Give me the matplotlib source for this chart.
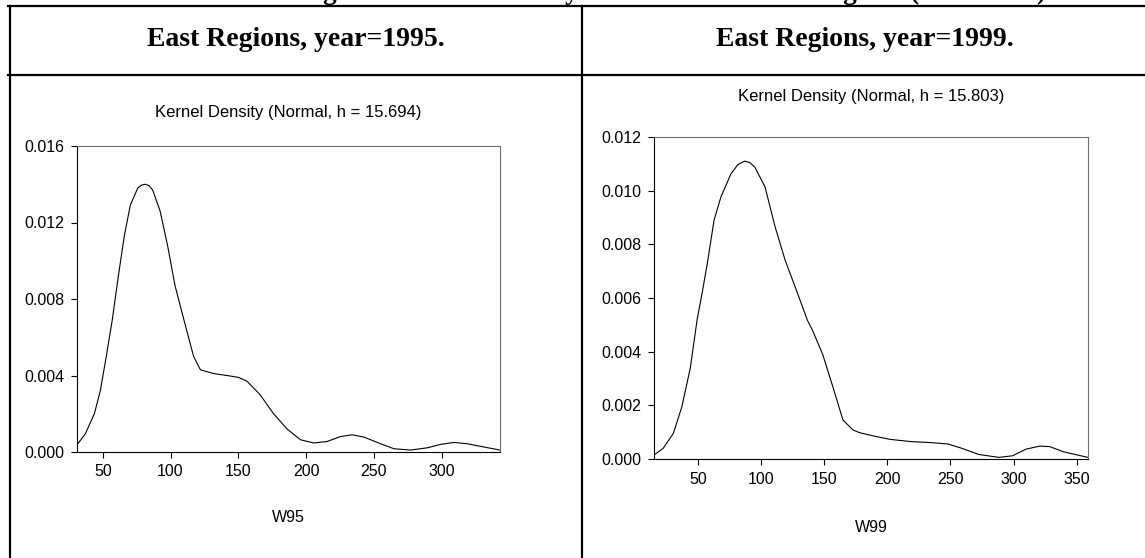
import matplotlib.pyplot as plt
from matplotlib.lines import Line2D

# Kernel density curves
w95_x = [31.3, 37.2, 43.8, 48.2, 52.6, 57.0, 61.5, 65.9, 70.3, 75.8, 78.5, 81.3, 84.0,
         86.8, 92.3, 97.8, 103.3, 109.9, 114.0, 117.0, 122.0, 131.8, 141.6, 150.2, 156.4,
         166.0, 176.0, 186.0, 195.8, 205.7, 215.5, 225.4, 234.0, 242.6, 255.0, 264.8,
         277.0, 289.4, 299.3, 309.0, 319.0, 331.3, 343.0]
w95_y = [0.0004, 0.00096, 0.0020, 0.0032, 0.0050, 0.0069, 0.0092, 0.0113, 0.0129, 0.0138,
         0.01395, 0.0140, 0.01393, 0.0137, 0.0126, 0.0108, 0.0087, 0.0069, 0.0058, 0.0050,
         0.0043, 0.0041, 0.0040, 0.0039, 0.0037, 0.0030, 0.0020, 0.0012, 0.00064,
         0.00047, 0.00055, 0.00081, 0.0009, 0.00078, 0.00043, 0.00017, 0.0001, 0.00022,
         0.0004, 0.0005, 0.00043, 0.00026, 0.0001]

w99_x = [15.0, 22.3, 30.4, 37.1, 43.8, 49.2, 53.2, 57.3, 62.6, 68.0, 76.0, 81.5, 86.8,
         90.8, 94.9, 103.0, 111.0, 119.0, 127.0, 136.6, 140.6, 148.7, 156.7, 164.8, 172.8,
         178.0, 191.7, 202.4, 218.5, 234.7, 248.0, 258.9, 272.3, 288.4, 299.2, 310.0,
         320.7, 328.8, 339.5, 358.9]
w99_y = [0.00015, 0.0004, 0.00096, 0.00195, 0.0034, 0.0052, 0.0062, 0.0073, 0.0089,
         0.00976, 0.01063, 0.01097, 0.0111, 0.01105, 0.01088, 0.01014, 0.00865, 0.0074,
         0.0064, 0.00517, 0.0048, 0.0039, 0.0027, 0.00145, 0.00108, 0.00098, 0.00083,
         0.00073, 0.00065, 0.00061, 0.00056, 0.0004, 0.00017, 0.00006, 0.00012, 0.00037,
         0.00048, 0.00046, 0.00027, 0.00006]

w95_xticks = [50, 100, 150, 200, 250, 300]
w95_yticks = [0.000, 0.004, 0.008, 0.012, 0.016]
w99_xticks = [50, 100, 150, 200, 250, 300, 350]
w99_yticks = [0.000, 0.002, 0.004, 0.006, 0.008, 0.010, 0.012]

W, H = 1145, 558
fig = plt.figure(figsize=(W / 100, H / 100), dpi=100)
plt.rcParams['font.family'] = ['Liberation Sans', 'DejaVu Sans']


def fx(px):
    return px / W


def fy(py):
    return 1 - py / H


# table frame
for xs, ys in [((8, W), (6, 6)), ((8, W), (75, 75)), ((9.5, 9.5), (6, H)),
               ((582, 582), (6, H))]:
    fig.add_artist(Line2D([fx(x) for x in xs], [fy(y) for y in ys],
                          color='black', linewidth=1.6, transform=fig.transFigure))

# caption above the table, cut by the top edge as in the source
fig.text(fx(1046), fy(-1), 'Figure 4. Kernel density for East Candidate Regions (1995-1999)',
         ha='right', va='baseline', fontsize=19.5, fontweight='bold',
         family='Liberation Serif')

fig.text(fx(296), fy(40), 'East Regions, year=1995.', ha='center', va='center',
         fontsize=20, fontweight='bold', family='Liberation Serif')
fig.text(fx(865), fy(40), 'East Regions, year=1999.', ha='center', va='center',
         fontsize=20, fontweight='bold', family='Liberation Serif')


def make_panel(box, x, y, xlim, ylim, xticks, yticks, title, title_y, xlabel, xlabel_y):
    left, top, right, bottom = box
    ax = fig.add_axes([fx(left), fy(bottom), (right - left) / W, (bottom - top) / H])
    ax.plot(x, y, color='black', linewidth=0.8)
    ax.set_xlim(*xlim)
    ax.set_ylim(*ylim)
    ax.set_xticks(xticks)
    ax.set_yticks(yticks)
    ax.set_yticklabels([f'{v:.3f}' for v in yticks])
    ax.tick_params(direction='out', length=4, width=0.8, pad=5, labelsize=11.5,
                   top=False, right=False)
    for side in ['left', 'bottom']:
        ax.spines[side].set_color('black')
        ax.spines[side].set_linewidth(0.8)
    for side in ['top', 'right']:
        ax.spines[side].set_color('#707070')
        ax.spines[side].set_linewidth(0.8)
    fig.text(fx((left + right) / 2), fy(title_y), title, ha='center', va='center',
             fontsize=12)
    ax.set_xlabel(xlabel, fontsize=11.5, va='center')
    ax.xaxis.set_label_coords(0.5, -(xlabel_y - bottom) / (bottom - top))
    return ax


make_panel((77, 146, 500, 452), w95_x, w95_y, (31, 343), (0, 0.016),
           w95_xticks, w95_yticks, 'Kernel Density (Normal, h = 15.694)', 112,
           'W95', 518)
make_panel((654, 137, 1088, 459), w99_x, w99_y, (15, 359), (0, 0.012),
           w99_xticks, w99_yticks, 'Kernel Density (Normal, h = 15.803)', 97,
           'W99', 528)

fig.savefig('out.png', dpi=100)
